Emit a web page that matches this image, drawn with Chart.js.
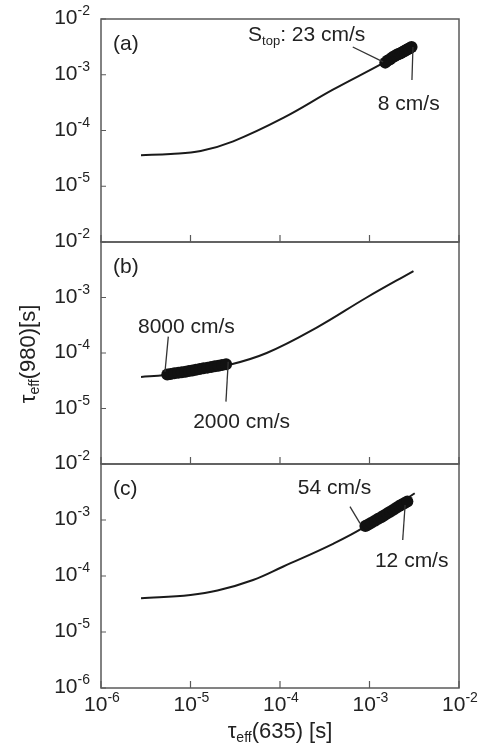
<!DOCTYPE html>
<html>
<head>
<meta charset="utf-8">
<script src="https://cdn.jsdelivr.net/npm/chart.js@4.4.1/dist/chart.umd.min.js"></script>
<style>
  body { margin: 0; background: #fff; }
  #wrap { position: relative; width: 479px; height: 744px; }
  #wrap canvas { position: absolute; left: 0; top: 0; }
</style>
</head>
<body>
<div id="wrap">
  <canvas id="pa" width="479" height="744"></canvas>
  <canvas id="pb" width="479" height="744"></canvas>
  <canvas id="pc" width="479" height="744"></canvas>
</div>
<script>
// panel (a)
const lineAx = [2.8e-6, 6.0e-6, 1.3e-5, 3.0e-5, 1.1e-4, 3.9e-4, 1.4e-3, 3.2e-3];
const lineAy = [3.6e-5, 3.8e-5, 4.3e-5, 6.4e-5, 1.7e-4, 5.4e-4, 1.6e-3, 3.4e-3];
const dotAx = [1.5e-3, 1.6e-3, 1.7e-3, 1.8e-3, 1.9e-3, 2.0e-3, 2.1e-3, 2.2e-3, 2.3e-3, 2.4e-3, 2.5e-3, 2.6e-3, 2.7e-3, 2.8e-3, 2.95e-3];
const dotAy = [1.65e-3, 1.8e-3, 1.9e-3, 2.05e-3, 2.15e-3, 2.25e-3, 2.35e-3, 2.4e-3, 2.5e-3, 2.6e-3, 2.7e-3, 2.8e-3, 2.9e-3, 3.0e-3, 3.15e-3];

// panel (b)
const lineBx = [2.8e-6, 5.2e-6, 1.0e-5, 2.6e-5, 7.1e-5, 2.6e-4, 9.3e-4, 3.1e-3];
const lineBy = [3.7e-5, 4.0e-5, 4.6e-5, 6.0e-5, 1.0e-4, 2.9e-4, 1.0e-3, 3.0e-3];
const dotBx = [5.5e-6, 6.0e-6, 6.6e-6, 7.3e-6, 8.0e-6, 8.8e-6, 9.6e-6, 1.05e-5, 1.15e-5, 1.27e-5, 1.4e-5, 1.55e-5, 1.7e-5, 1.87e-5, 2.05e-5, 2.25e-5, 2.5e-5];
const dotBy = [4.1e-5, 4.2e-5, 4.3e-5, 4.4e-5, 4.5e-5, 4.6e-5, 4.75e-5, 4.85e-5, 5.0e-5, 5.15e-5, 5.3e-5, 5.45e-5, 5.6e-5, 5.75e-5, 5.9e-5, 6.1e-5, 6.3e-5];

// panel (c)
const lineCx = [2.8e-6, 1.0e-5, 2.0e-5, 5.0e-5, 1.09e-4, 3.97e-4, 8.9e-4, 3.2e-3];
const lineCy = [4.0e-5, 4.6e-5, 5.5e-5, 8.5e-5, 1.48e-4, 3.8e-4, 7.6e-4, 3.0e-3];
const dotCx = [9.0e-4, 9.7e-4, 1.05e-3, 1.15e-3, 1.25e-3, 1.35e-3, 1.45e-3, 1.57e-3, 1.7e-3, 1.85e-3, 2.0e-3, 2.15e-3, 2.3e-3, 2.45e-3, 2.65e-3];
const dotCy = [7.8e-4, 8.3e-4, 8.9e-4, 9.7e-4, 1.05e-3, 1.12e-3, 1.2e-3, 1.3e-3, 1.4e-3, 1.52e-3, 1.65e-3, 1.77e-3, 1.9e-3, 2.0e-3, 2.15e-3];

// axes
const xTickExps = [-6, -5, -4, -3, -2];
const yTickExpsTop = [-2, -3, -4, -5];
const yTickExpsLast = [-2, -3, -4, -5, -6];

const BASE_FONT = '"Liberation Sans", Arial, sans-serif';
const TXT = '#222';

function toPts(xs, ys) {
  return xs.map(function (x, i) { return { x: x, y: ys[i] }; });
}

// draws "10" with a superscript exponent; align = 'right' or 'center'
function drawPow(ctx, exp, x, y, align) {
  const base = '10', sup = String(exp);
  ctx.font = '21px ' + BASE_FONT;
  const wb = ctx.measureText(base).width;
  ctx.font = '14px ' + BASE_FONT;
  const ws = ctx.measureText(sup).width;
  let x0 = align === 'right' ? x - wb - ws : x - (wb + ws) / 2;
  ctx.fillStyle = TXT;
  ctx.textAlign = 'left';
  ctx.textBaseline = 'alphabetic';
  ctx.font = '21px ' + BASE_FONT;
  ctx.fillText(base, x0, y);
  ctx.font = '14px ' + BASE_FONT;
  ctx.fillText(sup, x0 + wb, y - 9);
}

// text like "S_top: 23 cm/s" -> parts [{t, sub}]
function drawParts(ctx, parts, x, y, size) {
  let cx = x;
  ctx.textAlign = 'left';
  ctx.textBaseline = 'alphabetic';
  ctx.fillStyle = TXT;
  parts.forEach(function (p) {
    ctx.font = (p.sub ? Math.round(size * 0.62) : size) + 'px ' + BASE_FONT;
    ctx.fillText(p.t, cx, p.sub ? y + 4 : y);
    cx += ctx.measureText(p.t).width;
  });
  return cx - x;
}

function partsWidth(ctx, parts, size) {
  let w = 0;
  parts.forEach(function (p) {
    ctx.font = (p.sub ? Math.round(size * 0.62) : size) + 'px ' + BASE_FONT;
    w += ctx.measureText(p.t).width;
  });
  return w;
}

const panelDeco = {
  id: 'panelDeco',
  afterDraw: function (chart, args, o) {
    const ctx = chart.ctx, a = chart.chartArea;
    const xs = chart.scales.x, ys = chart.scales.y;
    ctx.save();

    // frame
    ctx.strokeStyle = '#5a5a5a';
    ctx.lineWidth = 1.5;
    ctx.strokeRect(a.left, a.top, a.right - a.left, a.bottom - a.top);

    // inward ticks
    ctx.lineWidth = 1.2;
    ctx.beginPath();
    o.yTicks.forEach(function (e) {
      const py = ys.getPixelForValue(Math.pow(10, e));
      ctx.moveTo(a.left, py); ctx.lineTo(a.left + 5, py);
    });
    xTickExps.forEach(function (e) {
      const px = xs.getPixelForValue(Math.pow(10, e));
      ctx.moveTo(px, a.bottom); ctx.lineTo(px, a.bottom - 7);
    });
    ctx.stroke();

    // y tick labels
    o.yTicks.forEach(function (e) {
      const py = ys.getPixelForValue(Math.pow(10, e));
      drawPow(ctx, e, a.left - 11, py + 5, 'right');
    });
    // x tick labels
    if (o.xLabels) {
      xTickExps.forEach(function (e) {
        const px = xs.getPixelForValue(Math.pow(10, e));
        drawPow(ctx, e, px + 1, a.bottom + 23, 'center');
      });
    }

    // panel letter
    ctx.font = '21px ' + BASE_FONT;
    ctx.fillStyle = TXT;
    ctx.textAlign = 'left';
    ctx.textBaseline = 'alphabetic';
    ctx.fillText(o.letter, a.left + 12, a.top + 31);

    // annotations with leader lines
    ctx.strokeStyle = '#333';
    ctx.lineWidth = 1.3;
    o.notes.forEach(function (n) {
      drawParts(ctx, n.parts, xs.getPixelForValue(n.at[0]), ys.getPixelForValue(n.at[1]), 21);
      ctx.beginPath();
      ctx.moveTo(xs.getPixelForValue(n.from[0]), ys.getPixelForValue(n.from[1]));
      ctx.lineTo(xs.getPixelForValue(n.to[0]), ys.getPixelForValue(n.to[1]));
      ctx.stroke();
    });

    // axis titles (only on the last panel)
    if (o.titles) {
      const tx = [{ t: '\u03c4' }, { t: 'eff', sub: true }, { t: '(635) [s]' }];
      const w = partsWidth(ctx, tx, 22);
      drawParts(ctx, tx, (a.left + a.right) / 2 - w / 2, 738, 22);

      const ty = [{ t: '\u03c4' }, { t: 'eff', sub: true }, { t: '(980)[s]' }];
      const wy = partsWidth(ctx, ty, 22);
      ctx.translate(35, 354);
      ctx.rotate(-Math.PI / 2);
      drawParts(ctx, ty, -wy / 2, 0, 22);
    }
    ctx.restore();
  }
};

function makePanel(id, top, bottom, lx, ly, dx, dy, deco) {
  const ctx = document.getElementById(id).getContext('2d');
  return new Chart(ctx, {
    type: 'scatter',
    data: {
      datasets: [
        {
          label: 'dots',
          data: toPts(dx, dy),
          backgroundColor: '#111',
          borderColor: '#111',
          pointRadius: 6,
          pointHoverRadius: 6,
          borderWidth: 0
        },
        {
          label: 'curve',
          type: 'line',
          data: toPts(lx, ly),
          borderColor: '#1a1a1a',
          borderWidth: 2,
          pointRadius: 0,
          tension: 0.4,
          fill: false
        }
      ]
    },
    options: {
      responsive: false,
      animation: false,
      devicePixelRatio: 1,
      layout: { padding: { left: 101, right: 20, top: top, bottom: 744 - bottom } },
      plugins: {
        legend: { display: false },
        tooltip: { enabled: false },
        panelDeco: deco
      },
      scales: {
        x: { type: 'logarithmic', min: 1e-6, max: 1e-2, display: false },
        y: { type: 'logarithmic', min: 1e-6, max: 1e-2, display: false }
      }
    },
    plugins: [panelDeco]
  });
}

makePanel('pa', 19, 242, lineAx, lineAy, dotAx, dotAy, {
  letter: '(a)',
  yTicks: yTickExpsTop,
  xLabels: false,
  titles: false,
  notes: [
    { parts: [{ t: 'S' }, { t: 'top', sub: true }, { t: ': 23 cm/s' }], at: [4.4e-5, 4.0e-3], from: [6.5e-4, 3.15e-3], to: [1.42e-3, 1.7e-3] },
    { parts: [{ t: '8 cm/s' }], at: [1.24e-3, 2.33e-4], from: [3.06e-3, 3.15e-3], to: [2.98e-3, 8.05e-4] }
  ]
});

makePanel('pb', 242, 464, lineBx, lineBy, dotBx, dotBy, {
  letter: '(b)',
  yTicks: yTickExpsTop,
  xLabels: false,
  titles: false,
  notes: [
    { parts: [{ t: '8000 cm/s' }], at: [2.59e-6, 2.29e-4], from: [5.65e-6, 1.97e-4], to: [5.19e-6, 4.6e-5] },
    { parts: [{ t: '2000 cm/s' }], at: [1.07e-5, 4.46e-6], from: [2.64e-5, 6.97e-5], to: [2.49e-5, 1.33e-5] }
  ]
});

makePanel('pc', 464, 688, lineCx, lineCy, dotCx, dotCy, {
  letter: '(c)',
  yTicks: yTickExpsLast,
  xLabels: true,
  titles: true,
  notes: [
    { parts: [{ t: '54 cm/s' }], at: [1.58e-4, 2.88e-3], from: [6.05e-4, 1.73e-3], to: [7.84e-4, 8.73e-4] },
    { parts: [{ t: '12 cm/s' }], at: [1.15e-3, 1.43e-4], from: [2.5e-3, 1.85e-3], to: [2.35e-3, 4.4e-4] }
  ]
});
</script>
</body>
</html>
